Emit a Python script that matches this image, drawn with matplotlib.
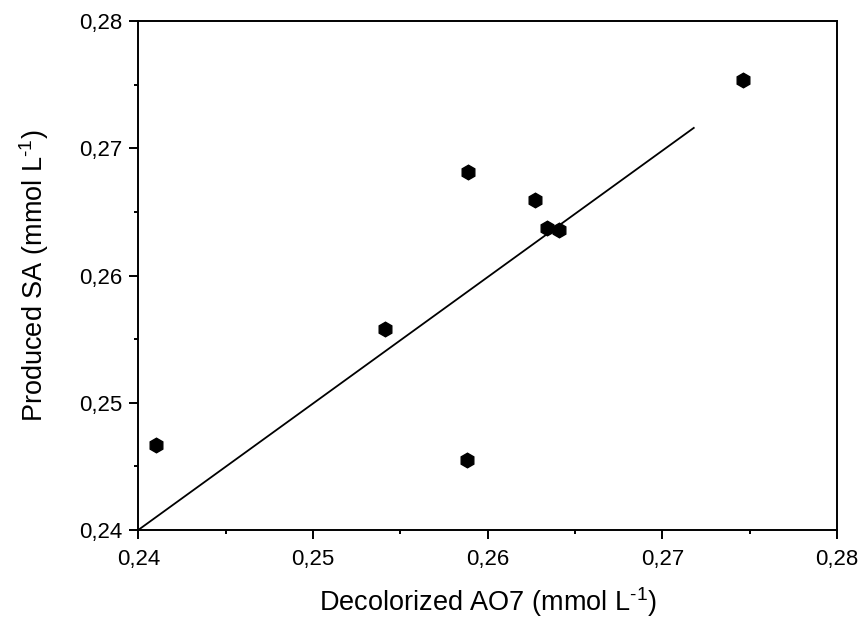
import matplotlib
matplotlib.use('Agg')
import matplotlib.pyplot as plt
from matplotlib.ticker import MultipleLocator, FuncFormatter

plt.rcParams['font.family'] = ['Liberation Sans', 'DejaVu Sans']
plt.rcParams['mathtext.fontset'] = 'custom'
plt.rcParams['mathtext.rm'] = 'Liberation Sans'
plt.rcParams['mathtext.it'] = 'Liberation Sans'

### data
decolorized_ao7 = [0.2410, 0.2541, 0.2588, 0.2589, 0.2627, 0.2634, 0.2641, 0.2746]
produced_sa = [0.2467, 0.2558, 0.2455, 0.2681, 0.2659, 0.2637, 0.2636, 0.2754]

# fitted line end points
fit_x = [0.2400, 0.2718]
fit_y = [0.2400, 0.2716]

xticks = [0.24, 0.25, 0.26, 0.27, 0.28]
yticks = [0.24, 0.25, 0.26, 0.27, 0.28]

def comma_fmt(v, pos):
    return f'{v:.2f}'.replace('.', ',')

fig = plt.figure(figsize=(8.62, 6.37), dpi=100)
ax = fig.add_axes([0.1604, 0.168, 0.8106, 0.799])

ax.plot(fit_x, fit_y, color='black', linewidth=1.3)
ax.plot(decolorized_ao7, produced_sa, linestyle='none', marker='h',
        markersize=10.5, color='black')

ax.set_xlim(0.24, 0.28)
ax.set_ylim(0.24, 0.28)
ax.set_xticks(xticks)
ax.set_yticks(yticks)
ax.xaxis.set_minor_locator(MultipleLocator(0.005))
ax.yaxis.set_minor_locator(MultipleLocator(0.005))
ax.xaxis.set_major_formatter(FuncFormatter(comma_fmt))
ax.yaxis.set_major_formatter(FuncFormatter(comma_fmt))

for sp in ax.spines.values():
    sp.set_linewidth(1.4)
ax.tick_params(which='major', direction='out', length=6.5, width=1.4,
               labelsize=16, pad=5)
ax.tick_params(which='minor', direction='out', length=3, width=1.4)
ax.tick_params(axis='x', which='major', pad=7)

ax.set_xlabel(r'Decolorized AO7 (mmol L$^{\text{-}1}$)', fontsize=19.5, labelpad=11)
ax.set_ylabel(r'Produced SA (mmol L$^{\text{-}1}$)', fontsize=19.5, labelpad=20)

fig.savefig('out.png', dpi=100)
